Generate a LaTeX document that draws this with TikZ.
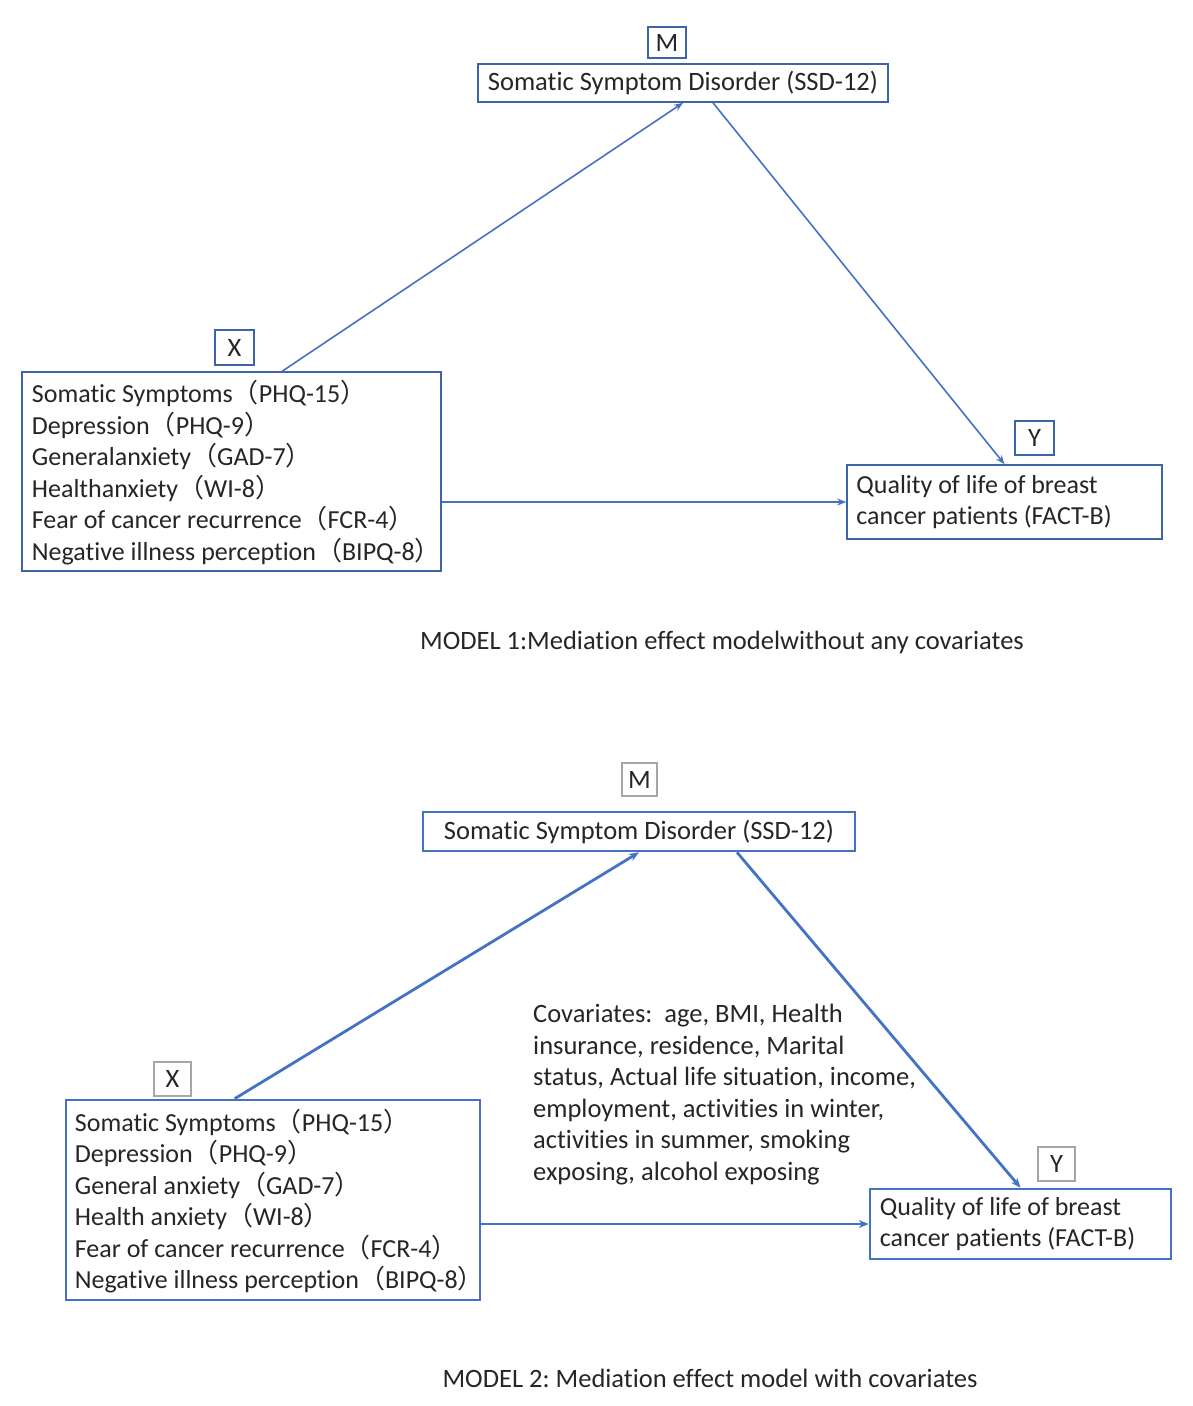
\documentclass[tikz,border=0pt]{standalone}
\usepackage{fontspec}
\setmainfont{Carlito}[Ligatures=NoCommon]
\newfontfamily\cjk{Noto Sans CJK SC}
\usetikzlibrary{arrows.meta}
\newcommand\myLP{{\cjk （}}
\newcommand\myRP{{\cjk ）}}
\definecolor{lineblue}{HTML}{4472C4}
\definecolor{darkblue}{HTML}{3E64A8}
\definecolor{lightgray}{HTML}{A6A6A6}
\definecolor{txt}{HTML}{262626}
\begin{document}
\begin{tikzpicture}[x=1pt,y=-1pt,
  every node/.style={text=txt,font=\fontsize{26.5}{31.5}\selectfont},
  boxa/.style={draw=darkblue,line width=1.6pt,inner sep=0pt},
  boxb/.style={draw=lineblue,line width=2.6pt,inner sep=0pt},
  tagb/.style={draw=lightgray,line width=1.2pt,inner sep=0pt},
  listtext/.style={anchor=west,align=left,inner sep=0pt,font=\fontsize{26}{31.5}\selectfont},
  linka/.style={draw=lineblue,line width=1.6pt,-{Stealth[length=9pt,width=7pt]}},
  linkb/.style={draw=lineblue,line width=2.8pt,-{Stealth[length=10pt,width=8pt]}}]
\useasboundingbox (0,0) rectangle (1193,1406);
\fill[white] (0,0) rectangle (1193,1406);
% ---------- MODEL 1 ----------
\node[boxa,minimum width=38pt,minimum height=31pt] (m1) at (667,42.5) {M};
\node[boxa,minimum width=410pt,minimum height=38pt] (ssd1) at (683,83) {Somatic Symptom Disorder (SSD-12)};
\node[boxa,minimum width=39pt,minimum height=35pt] (xt1) at (234.5,347.5) {X};
\node[boxa,minimum width=419pt,minimum height=199pt] (x1) at (231.5,471.5) {};
\node[listtext] (x1t) at ([xshift=10.5pt,yshift=-1pt]x1.west)
 {Somatic Symptoms\myLP PHQ-15\myRP\\Depression\myLP PHQ-9\myRP\\Generalanxiety\myLP GAD-7\myRP\\Healthanxiety\myLP WI-8\myRP\\Fear of cancer recurrence\myLP FCR-4\myRP\\Negative illness perception\myLP BIPQ-8\myRP};
\node[boxa,minimum width=39pt,minimum height=34pt] (yt1) at (1034.5,438) {Y};
\node[boxa,minimum width=315pt,minimum height=74pt] (q1) at (1004.5,502) {};
\node[listtext] (q1t) at ([xshift=10pt]q1.west) {Quality of life of breast\\cancer patients (FACT-B)};
\node (cap1) at (722,642) {MODEL 1:Mediation effect modelwithout any covariates};
\draw[linka] ([xshift=261pt]x1.north west) -- (ssd1.south);
\draw[linka] ([xshift=30pt]ssd1.south) -- (q1.north);
\draw[linka] (x1.east |- q1.west) -- (q1.west);
% ---------- MODEL 2 ----------
\node[tagb,minimum width=35pt,minimum height=33pt] (m2) at (639.5,779.5) {M};
\node[boxb,minimum width=432pt,minimum height=39pt] (ssd2) at (639,831.5) {Somatic Symptom Disorder (SSD-12)};
\node[tagb,minimum width=37pt,minimum height=34pt] (xt2) at (172.5,1079) {X};
\node[boxb,minimum width=414pt,minimum height=200pt] (x2) at (273,1200) {};
\node[listtext] (x2t) at ([xshift=10pt,yshift=-1pt]x2.west)
 {Somatic Symptoms\myLP PHQ-15\myRP\\Depression\myLP PHQ-9\myRP\\General anxiety\myLP GAD-7\myRP\\Health anxiety\myLP WI-8\myRP\\Fear of cancer recurrence\myLP FCR-4\myRP\\Negative illness perception\myLP BIPQ-8\myRP};
\node[tagb,minimum width=37pt,minimum height=34pt] (yt2) at (1056.5,1164) {Y};
\node[boxb,minimum width=301pt,minimum height=70pt] (q2) at (1020.5,1224) {};
\node[listtext] (q2t) at ([xshift=11pt]q2.west) {Quality of life of breast\\cancer patients (FACT-B)};
\node[anchor=west,align=left,inner sep=0pt] (cov) at (533,1094.5)
 {Covariates:\ \ age, BMI, Health\\insurance, residence, Marital\\status, Actual life situation, income,\\employment, activities in winter,\\activities in summer,\ smoking\\exposing, alcohol exposing};
\node (cap2) at (710,1378) {MODEL 2:\ Mediation effect model with covariates};
\draw[linkb] ([xshift=170pt]x2.north west) -- (ssd2.south);
\draw[linkb] ([xshift=98pt]ssd2.south) -- (q2.north);
\draw[linkb] (x2.east |- q2.west) -- (q2.west);
\end{tikzpicture}
\end{document}
